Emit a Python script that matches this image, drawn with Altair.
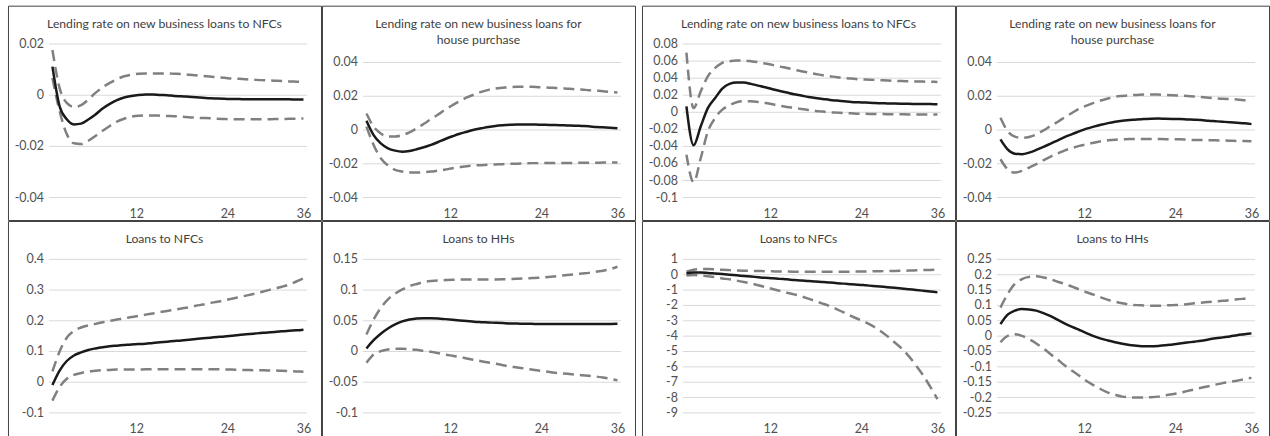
import altair as alt
import pandas as pd

# Horizon in months after the shock
HORIZON = list(range(1, 37))
X_TICKS = [12, 24, 36]

TITLE_NFC_RATE = "Lending rate on new business loans to NFCs"
TITLE_HP_RATE = "Lending rate on new business loans for\nhouse purchase"
TITLE_NFC_LOANS = "Loans to NFCs"
TITLE_HH_LOANS = "Loans to HHs"

# ---- Left block: lending rates -------------------------------------------------
A_NFC_RATE_MID = [0.0112, -0.0043, -0.0094, -0.0114, -0.0111, -0.0095, -0.0075, -0.0052, -0.0034, -0.0019,
                  -0.0009, -0.0003, 0.0001, 0.0003, 0.0003, 0.0001, 0.0000, -0.0003, -0.0004, -0.0006,
                  -0.0008, -0.0010, -0.0012, -0.0013, -0.0014, -0.0015, -0.0015, -0.0016, -0.0016, -0.0016,
                  -0.0016, -0.0016, -0.0016, -0.0016, -0.0017, -0.0017]
A_NFC_RATE_HI = [0.0177, 0.0028, -0.0030, -0.0046, -0.0039, -0.0017, 0.0009, 0.0031, 0.0048, 0.0063,
                 0.0074, 0.0080, 0.0084, 0.0085, 0.0085, 0.0085, 0.0085, 0.0084, 0.0083, 0.0080,
                 0.0078, 0.0075, 0.0073, 0.0070, 0.0068, 0.0065, 0.0064, 0.0062, 0.0061, 0.0059,
                 0.0058, 0.0057, 0.0056, 0.0054, 0.0053, 0.0052]
A_NFC_RATE_LO = [0.0067, -0.0062, -0.0152, -0.0188, -0.0191, -0.0178, -0.0159, -0.0139, -0.0120, -0.0103,
                 -0.0092, -0.0084, -0.0080, -0.0079, -0.0079, -0.0080, -0.0081, -0.0082, -0.0084, -0.0086,
                 -0.0088, -0.0089, -0.0090, -0.0092, -0.0093, -0.0094, -0.0094, -0.0094, -0.0094, -0.0094,
                 -0.0094, -0.0093, -0.0093, -0.0092, -0.0092, -0.0091]

A_HP_RATE_MID = [0.0055, -0.0030, -0.0079, -0.0108, -0.0122, -0.0128, -0.0124, -0.0114, -0.0102, -0.0088,
                 -0.0071, -0.0053, -0.0037, -0.0022, -0.0010, 0.0002, 0.0010, 0.0018, 0.0024, 0.0028,
                 0.0031, 0.0033, 0.0033, 0.0033, 0.0032, 0.0031, 0.0030, 0.0029, 0.0027, 0.0026,
                 0.0024, 0.0022, 0.0018, 0.0016, 0.0014, 0.0010]
A_HP_RATE_HI = [0.0098, 0.0020, -0.0020, -0.0039, -0.0039, -0.0030, -0.0014, 0.0010, 0.0037, 0.0065,
                0.0092, 0.0122, 0.0147, 0.0171, 0.0193, 0.0210, 0.0226, 0.0238, 0.0246, 0.0250,
                0.0254, 0.0256, 0.0256, 0.0256, 0.0254, 0.0252, 0.0250, 0.0248, 0.0245, 0.0242,
                0.0240, 0.0236, 0.0233, 0.0230, 0.0226, 0.0222]
A_HP_RATE_LO = [0.0020, -0.0088, -0.0167, -0.0210, -0.0236, -0.0246, -0.0252, -0.0252, -0.0250, -0.0246,
                -0.0240, -0.0234, -0.0226, -0.0220, -0.0214, -0.0210, -0.0208, -0.0206, -0.0204, -0.0202,
                -0.0200, -0.0199, -0.0197, -0.0196, -0.0196, -0.0195, -0.0195, -0.0195, -0.0195, -0.0195,
                -0.0194, -0.0194, -0.0194, -0.0193, -0.0193, -0.0193]

# ---- Right block: lending rates ------------------------------------------------
B_NFC_RATE_MID = [0.0070, -0.0387, -0.0164, 0.0051, 0.0168, 0.0278, 0.0333, 0.0348, 0.0348, 0.0333,
                  0.0313, 0.0294, 0.0270, 0.0250, 0.0231, 0.0211, 0.0196, 0.0180, 0.0168, 0.0157,
                  0.0145, 0.0137, 0.0129, 0.0121, 0.0117, 0.0114, 0.0110, 0.0106, 0.0104, 0.0102,
                  0.0100, 0.0099, 0.0098, 0.0097, 0.0096, 0.0095]
B_NFC_RATE_HI = [0.0700, 0.0050, 0.0247, 0.0423, 0.0520, 0.0580, 0.0599, 0.0607, 0.0607, 0.0599,
                 0.0587, 0.0571, 0.0556, 0.0536, 0.0520, 0.0501, 0.0481, 0.0466, 0.0450, 0.0434,
                 0.0423, 0.0411, 0.0403, 0.0395, 0.0387, 0.0384, 0.0380, 0.0376, 0.0372, 0.0369,
                 0.0366, 0.0364, 0.0362, 0.0360, 0.0358, 0.0356]
B_NFC_RATE_LO = [-0.0497, -0.0820, -0.0536, -0.0223, -0.0067, 0.0031, 0.0082, 0.0117, 0.0129, 0.0129,
                 0.0121, 0.0110, 0.0094, 0.0078, 0.0063, 0.0051, 0.0039, 0.0027, 0.0016, 0.0008,
                 0.0000, -0.0004, -0.0008, -0.0012, -0.0016, -0.0018, -0.0020, -0.0021, -0.0022, -0.0023,
                 -0.0024, -0.0025, -0.0025, -0.0026, -0.0026, -0.0027]

B_HP_RATE_MID = [-0.0055, -0.0114, -0.0140, -0.0143, -0.0134, -0.0118, -0.0100, -0.0081, -0.0061, -0.0041,
                 -0.0024, -0.0008, 0.0008, 0.0020, 0.0031, 0.0041, 0.0049, 0.0055, 0.0059, 0.0063,
                 0.0065, 0.0067, 0.0068, 0.0067, 0.0066, 0.0065, 0.0063, 0.0061, 0.0059, 0.0055,
                 0.0052, 0.0049, 0.0046, 0.0043, 0.0040, 0.0035]
B_HP_RATE_HI = [0.0073, -0.0006, -0.0039, -0.0047, -0.0041, -0.0026, -0.0002, 0.0024, 0.0049, 0.0077,
                0.0102, 0.0126, 0.0145, 0.0161, 0.0175, 0.0187, 0.0197, 0.0202, 0.0206, 0.0208,
                0.0210, 0.0210, 0.0210, 0.0208, 0.0206, 0.0204, 0.0202, 0.0199, 0.0195, 0.0191,
                0.0188, 0.0185, 0.0183, 0.0181, 0.0177, 0.0173]
B_HP_RATE_LO = [-0.0173, -0.0232, -0.0252, -0.0242, -0.0222, -0.0202, -0.0179, -0.0157, -0.0138, -0.0120,
                -0.0106, -0.0094, -0.0085, -0.0075, -0.0067, -0.0061, -0.0057, -0.0055, -0.0053, -0.0053,
                -0.0053, -0.0053, -0.0053, -0.0054, -0.0054, -0.0055, -0.0057, -0.0059, -0.0059, -0.0061,
                -0.0061, -0.0062, -0.0063, -0.0065, -0.0065, -0.0067]

# ---- Left block: loan volumes --------------------------------------------------
A_NFC_LOANS_MID = [-0.009, 0.038, 0.069, 0.087, 0.097, 0.105, 0.110, 0.114, 0.117, 0.119,
                   0.121, 0.123, 0.124, 0.1255, 0.128, 0.130, 0.132, 0.134, 0.136, 0.1385,
                   0.141, 0.143, 0.145, 0.147, 0.149, 0.1515, 0.154, 0.156, 0.158, 0.160,
                   0.162, 0.1634, 0.1656, 0.1677, 0.1688, 0.171]
A_NFC_LOANS_HI = [0.035, 0.100, 0.145, 0.167, 0.178, 0.185, 0.190, 0.195, 0.200, 0.204,
                  0.208, 0.212, 0.216, 0.220, 0.224, 0.228, 0.232, 0.236, 0.240, 0.244,
                  0.249, 0.253, 0.258, 0.262, 0.267, 0.272, 0.277, 0.282, 0.287, 0.293,
                  0.299, 0.305, 0.311, 0.318, 0.328, 0.338]
A_NFC_LOANS_LO = [-0.060, -0.016, 0.011, 0.024, 0.030, 0.035, 0.037, 0.039, 0.040, 0.041,
                  0.041, 0.041, 0.041, 0.042, 0.042, 0.042, 0.042, 0.042, 0.042, 0.042,
                  0.042, 0.042, 0.042, 0.042, 0.041, 0.041, 0.040, 0.040, 0.039, 0.039,
                  0.038, 0.038, 0.037, 0.036, 0.035, 0.034]

A_HH_LOANS_MID = [0.005, 0.0185, 0.029, 0.0375, 0.044, 0.049, 0.052, 0.0538, 0.0543, 0.0543,
                  0.0538, 0.0527, 0.0516, 0.0505, 0.0495, 0.0484, 0.0478, 0.0473, 0.0467, 0.0462,
                  0.0457, 0.0455, 0.0451, 0.0450, 0.0446, 0.0446, 0.0446, 0.0448, 0.0448, 0.0446,
                  0.0446, 0.0446, 0.0446, 0.0448, 0.0448, 0.0450]
A_HH_LOANS_HI = [0.0277, 0.052, 0.071, 0.085, 0.094, 0.101, 0.1065, 0.110, 0.113, 0.1147,
                 0.1158, 0.1163, 0.1168, 0.1174, 0.1174, 0.1174, 0.1174, 0.1174, 0.1174, 0.1176,
                 0.118, 0.1185, 0.119, 0.1195, 0.120, 0.121, 0.122, 0.1234, 0.1245, 0.1255,
                 0.127, 0.128, 0.130, 0.1315, 0.134, 0.138]
A_HH_LOANS_LO = [-0.0185, -0.005, 0.0005, 0.0033, 0.0043, 0.0043, 0.0038, 0.0027, 0.001, -0.0005,
                 -0.0027, -0.005, -0.007, -0.009, -0.0114, -0.0136, -0.0158, -0.018, -0.020, -0.0223,
                 -0.0245, -0.026, -0.0277, -0.0293, -0.031, -0.0326, -0.0342, -0.0353, -0.0364, -0.0375,
                 -0.0386, -0.0397, -0.0408, -0.0425, -0.0445, -0.047]

# ---- Right block: loan volumes -------------------------------------------------
B_NFC_LOANS_MID = [0.10, 0.15, 0.15, 0.12, 0.08, 0.04, 0.00, -0.04, -0.08, -0.12,
                   -0.16, -0.20, -0.23, -0.27, -0.30, -0.34, -0.37, -0.41, -0.44, -0.48,
                   -0.51, -0.55, -0.58, -0.62, -0.65, -0.69, -0.73, -0.77, -0.81, -0.85,
                   -0.89, -0.94, -0.99, -1.04, -1.09, -1.15]
B_NFC_LOANS_HI = [0.20, 0.33, 0.37, 0.37, 0.35, 0.32, 0.30, 0.28, 0.265, 0.25,
                  0.24, 0.23, 0.22, 0.21, 0.205, 0.20, 0.195, 0.19, 0.19, 0.19,
                  0.19, 0.19, 0.195, 0.20, 0.205, 0.21, 0.22, 0.23, 0.24, 0.25,
                  0.26, 0.27, 0.285, 0.30, 0.315, 0.33]
B_NFC_LOANS_LO = [-0.05, -0.02, -0.05, -0.10, -0.16, -0.24, -0.30, -0.38, -0.47, -0.57,
                  -0.68, -0.80, -0.93, -1.05, -1.17, -1.28, -1.40, -1.56, -1.72, -1.88,
                  -2.05, -2.25, -2.47, -2.70, -2.90, -3.10, -3.35, -3.65, -4.00, -4.40,
                  -4.80, -5.30, -5.90, -6.55, -7.30, -8.10]

B_HH_LOANS_MID = [0.039, 0.070, 0.083, 0.088, 0.087, 0.083, 0.075, 0.065, 0.053, 0.041,
                  0.030, 0.020, 0.010, 0.000, -0.008, -0.014, -0.020, -0.025, -0.029, -0.031,
                  -0.033, -0.033, -0.032, -0.030, -0.027, -0.024, -0.021, -0.018, -0.015, -0.011,
                  -0.007, -0.004, -0.001, 0.003, 0.006, 0.009]
B_HH_LOANS_HI = [0.093, 0.137, 0.170, 0.186, 0.193, 0.195, 0.191, 0.185, 0.177, 0.170,
                 0.161, 0.152, 0.143, 0.135, 0.126, 0.118, 0.112, 0.107, 0.103, 0.101,
                 0.100, 0.099, 0.099, 0.100, 0.101, 0.102, 0.104, 0.107, 0.109, 0.111,
                 0.113, 0.115, 0.117, 0.120, 0.122, 0.124]
B_HH_LOANS_LO = [-0.020, 0.001, 0.0065, 0.001, -0.010, -0.024, -0.040, -0.059, -0.077, -0.096,
                 -0.113, -0.129, -0.146, -0.160, -0.173, -0.184, -0.191, -0.197, -0.199, -0.200,
                 -0.200, -0.199, -0.197, -0.193, -0.189, -0.185, -0.179, -0.174, -0.168, -0.163,
                 -0.158, -0.153, -0.149, -0.145, -0.140, -0.136]

# Value-axis gridlines / labels for each panel
TICKS_RATE_NFC_A = [0.02, 0, -0.02, -0.04]
TICKS_RATE_HP = [0.04, 0.02, 0, -0.02, -0.04]
TICKS_RATE_NFC_B = [0.08, 0.06, 0.04, 0.02, 0, -0.02, -0.04, -0.06, -0.08, -0.1]
TICKS_LOANS_NFC_A = [0.4, 0.3, 0.2, 0.1, 0, -0.1]
TICKS_LOANS_HH_A = [0.15, 0.1, 0.05, 0, -0.05, -0.1]
TICKS_LOANS_NFC_B = [1, 0, -1, -2, -3, -4, -5, -6, -7, -8, -9]
TICKS_LOANS_HH_B = [0.25, 0.2, 0.15, 0.1, 0.05, 0, -0.05, -0.1, -0.15, -0.2, -0.25]

# ---- Styling -------------------------------------------------------------------
FONT = "Lato"
TITLE_COLOR = "#404040"
LABEL_COLOR = "#505050"
GRID_COLOR = "#d9d9d9"
BAND_COLOR = "#808080"
MID_COLOR = "#1a1a1a"
BORDER_COLOR = "#404040"
LABEL_SIZE = 12.5

BOX_W = 314
TOP_H = 215
BOTTOM_H = 218
PLOT_LEFT = 41
PLOT_RIGHT = 300
PLOT_BOTTOM = 192.5
TOP_ONE_LINE = 38.5
TOP_TWO_LINES = 57
X_LABEL_BASELINE = 212
Y_LABEL_GAP = 5

# horizontal nudges (px) of the horizon labels
X_LABEL_NUDGE = {
    "condition": [
        {"test": "datum.value === 24", "value": 10},
        {"test": "datum.value === 36", "value": 0},
    ],
    "value": 5,
}


def panel(title, mid, lo, hi, yticks, box_h, plot_top):
    n = len(HORIZON)
    df = pd.DataFrame({
        "h": HORIZON * 3,
        "value": mid + lo + hi,
        "band": ["mid"] * n + ["lo"] * n + ["hi"] * n,
    })
    grid_df = pd.DataFrame({
        "v": [float(v) for v in yticks],
        "label": [f"{v:g}" for v in yticks],
        "x0": 0.5,
        "x1": 36.5,
    })
    title_df = pd.DataFrame({"t": [title]})

    xscale = alt.Scale(domain=[0.5, 36.5], range=[PLOT_LEFT, PLOT_RIGHT], nice=False, zero=False)
    yscale = alt.Scale(domain=[min(yticks), max(yticks)], range=[PLOT_BOTTOM, plot_top],
                       nice=False, zero=False)
    xaxis = alt.Axis(values=X_TICKS, grid=False, domain=False, ticks=False, tickSize=0,
                     labelPadding=0, labelBaseline="alphabetic", offset=X_LABEL_BASELINE - box_h,
                     labelOffset=X_LABEL_NUDGE, labelOverlap=False, labelFont=FONT,
                     labelFontSize=LABEL_SIZE, labelColor=LABEL_COLOR, title=None)

    enc_x = alt.X("h:Q", scale=xscale, axis=xaxis, title=None)
    enc_y = alt.Y("value:Q", scale=yscale, axis=None, title=None)

    grid = alt.Chart(grid_df).mark_rule(color=GRID_COLOR, strokeWidth=1).encode(
        x=alt.X("x0:Q", scale=xscale, axis=xaxis, title=None),
        x2="x1",
        y=alt.Y("v:Q", scale=yscale, axis=None, title=None),
    )
    # value labels sit just left of the gridlines they name
    ylabels = alt.Chart(grid_df).mark_text(
        font=FONT, fontSize=LABEL_SIZE, color=LABEL_COLOR, align="right", baseline="middle"
    ).encode(
        x=alt.value(PLOT_LEFT - Y_LABEL_GAP),
        y=alt.Y("v:Q", scale=yscale, axis=None, title=None),
        text="label:N",
    )
    bands = alt.Chart(df).transform_filter("datum.band != 'mid'").mark_line(
        color=BAND_COLOR, strokeWidth=2.5, strokeDash=[11, 6], interpolate="monotone"
    ).encode(x=enc_x, y=enc_y, detail="band:N")
    median = alt.Chart(df).transform_filter("datum.band == 'mid'").mark_line(
        color=MID_COLOR, strokeWidth=2.5, interpolate="monotone"
    ).encode(x=enc_x, y=enc_y)
    heading = alt.Chart(title_df).mark_text(
        font=FONT, fontSize=12.2, color=TITLE_COLOR, align="center", baseline="alphabetic",
        lineBreak="\n", lineHeight=16.5
    ).encode(text="t:N", x=alt.value(BOX_W / 2), y=alt.value(22))

    return alt.layer(grid, ylabels, bands, median, heading).properties(width=BOX_W, height=box_h)


p1 = panel(TITLE_NFC_RATE, A_NFC_RATE_MID, A_NFC_RATE_LO, A_NFC_RATE_HI, TICKS_RATE_NFC_A, TOP_H, TOP_ONE_LINE)
p2 = panel(TITLE_HP_RATE, A_HP_RATE_MID, A_HP_RATE_LO, A_HP_RATE_HI, TICKS_RATE_HP, TOP_H, TOP_TWO_LINES)
p3 = panel(TITLE_NFC_RATE, B_NFC_RATE_MID, B_NFC_RATE_LO, B_NFC_RATE_HI, TICKS_RATE_NFC_B, TOP_H, TOP_ONE_LINE)
p4 = panel(TITLE_HP_RATE, B_HP_RATE_MID, B_HP_RATE_LO, B_HP_RATE_HI, TICKS_RATE_HP, TOP_H, TOP_TWO_LINES)
p5 = panel(TITLE_NFC_LOANS, A_NFC_LOANS_MID, A_NFC_LOANS_LO, A_NFC_LOANS_HI, TICKS_LOANS_NFC_A, BOTTOM_H, TOP_ONE_LINE)
p6 = panel(TITLE_HH_LOANS, A_HH_LOANS_MID, A_HH_LOANS_LO, A_HH_LOANS_HI, TICKS_LOANS_HH_A, BOTTOM_H, TOP_ONE_LINE)
p7 = panel(TITLE_NFC_LOANS, B_NFC_LOANS_MID, B_NFC_LOANS_LO, B_NFC_LOANS_HI, TICKS_LOANS_NFC_B, BOTTOM_H, TOP_ONE_LINE)
p8 = panel(TITLE_HH_LOANS, B_HH_LOANS_MID, B_HH_LOANS_LO, B_HH_LOANS_HI, TICKS_LOANS_HH_B, BOTTOM_H, TOP_ONE_LINE)

top_row = alt.hconcat(alt.hconcat(p1, p2, spacing=-1), alt.hconcat(p3, p4, spacing=-1), spacing=5)
bottom_row = alt.hconcat(alt.hconcat(p5, p6, spacing=-1), alt.hconcat(p7, p8, spacing=-1), spacing=5)

chart = alt.vconcat(top_row, bottom_row, spacing=-1).properties(
    padding={"left": 7, "top": 4, "right": 0, "bottom": 0},
    background="white",
).configure_view(
    stroke=BORDER_COLOR, strokeWidth=1
).configure_axis(
    labelOverlap=False
)

chart.save("out.html", embed_options={"renderer": "svg", "actions": False})
